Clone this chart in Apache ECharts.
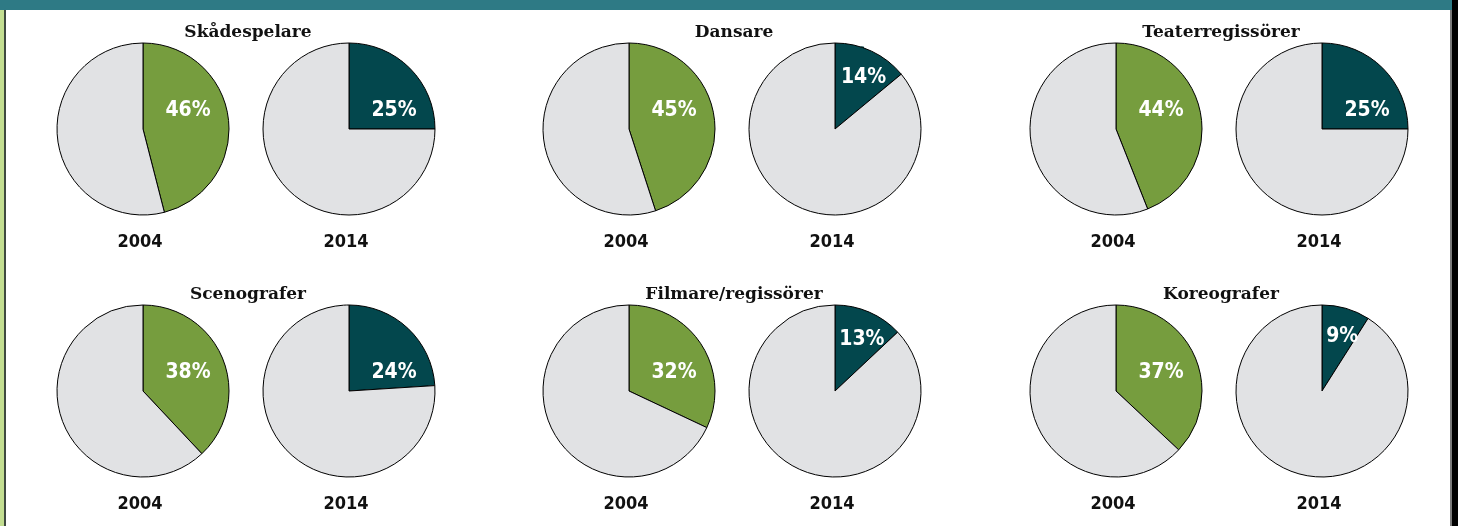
<!DOCTYPE html>
<html>
<head>
<meta charset="utf-8">
<script src="https://cdn.jsdelivr.net/npm/echarts@6/dist/echarts.min.js"></script>
<style>
  html, body { margin: 0; padding: 0; background: #fff; }
  #wrap { position: relative; width: 1458px; height: 526px; overflow: hidden; background: #fff; }
  .deco { position: absolute; z-index: 5; }
  #chart { position: absolute; left: 0; top: 0; width: 1458px; height: 526px; z-index: 1; }
</style>
</head>
<body>
<div id="wrap">
  <div id="chart"></div>
  <div class="deco" style="left:0;top:0;width:1452px;height:10px;background:#2e7a85"></div>
  <div class="deco" style="left:0;top:10px;width:4px;height:516px;background:#c3de91"></div>
  <div class="deco" style="left:4px;top:10px;width:2px;height:516px;background:#3f4a40"></div>
  <div class="deco" style="left:1450px;top:10px;width:2px;height:516px;background:#7a7a7a"></div>
  <div class="deco" style="left:1452px;top:0;width:6px;height:526px;background:#000"></div>
</div>
<script>
const occupations = ['Skådespelare', 'Dansare', 'Teaterregissörer', 'Scenografer', 'Filmare/regissörer', 'Koreografer']
const years = ['2004', '2014']
const share2004 = [46, 45, 44, 38, 32, 37]
const share2014 = [25, 14, 25, 24, 13, 9]

const colors = { '2004': '#769d3e', '2014': '#03474d' }
const restColor = '#e1e2e4'

const colX = [246, 732, 1219]
const rowY = [129, 391]
const pieGap = 103
const radius = 86

const chart = echarts.init(document.getElementById('chart'))

const titles = []
const series = []

occupations.forEach((name, i) => {
  const cx = colX[i % 3]
  const cy = rowY[Math.floor(i / 3)]
  titles.push({
    text: name,
    left: cx + 2,
    top: cy - 105,
    padding: 0,
    textAlign: 'center',
    textStyle: { fontFamily: 'DejaVu Serif', fontWeight: 'bold', fontSize: 17, color: '#111' },
  })
  years.forEach((year, j) => {
    const px = cx + (j === 0 ? -pieGap : pieGap)
    const value = (j === 0 ? share2004 : share2014)[i]
    titles.push({
      text: year,
      left: px - 3,
      top: cy + 104,
      padding: 0,
      textAlign: 'center',
      textStyle: { fontFamily: 'DejaVu Sans Condensed', fontWeight: 'bold', fontSize: 18, color: '#111' },
    })
    series.push({
      type: 'pie',
      center: [px, cy],
      radius: radius,
      startAngle: 90,
      clockwise: true,
      animation: false,
      silent: true,
      itemStyle: { borderColor: '#000', borderWidth: 1 },
      label: {
        show: true,
        position: 'inside',
        formatter: '{c}%',
        color: '#fff',
        fontFamily: 'DejaVu Sans Condensed',
        fontWeight: 'bold',
        fontSize: 21,
      },
      // place the label in the upper part of the coloured slice
      labelLayout: (params) => {
        if (params.dataIndex !== 0) return {}
        let dx, dy
        if (value >= 20) {
          dx = 45; dy = -18
        } else {
          const a = (value / 100 * 180 + 4) * Math.PI / 180
          dx = Math.sin(a) * radius * 0.68
          dy = -Math.cos(a) * radius * 0.68
        }
        return { x: px + dx, y: cy + dy }
      },
      data: [
        { value: value, name: year, itemStyle: { color: colors[year] } },
        { value: 100 - value, name: 'övriga', itemStyle: { color: restColor }, label: { show: false } },
      ],
    })
  })
})

chart.setOption({
  backgroundColor: 'transparent',
  animation: false,
  title: titles,
  series: series,
})
</script>
</body>
</html>
